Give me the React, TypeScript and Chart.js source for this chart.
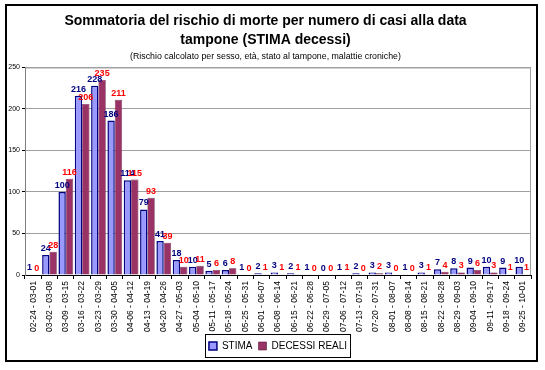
import React, { useEffect, useRef } from "react";
import { Chart, registerables } from "chart.js";

Chart.register(...registerables);

const weeks = [
  "02-24 - 03-01", "03-02 - 03-08", "03-09 - 03-15", "03-16 - 03-22", "03-23 - 03-29",
  "03-30 - 04-05", "04-06 - 04-12", "04-13 - 04-19", "04-20 - 04-26", "04-27 - 05-03",
  "05-04 - 05-10", "05-11 - 05-17", "05-18 - 05-24", "05-25 - 05-31", "06-01 - 06-07",
  "06-08 - 06-14", "06-15 - 06-21", "06-22 - 06-28", "06-29 - 07-05", "07-06 - 07-12",
  "07-13 - 07-19", "07-20 - 07-31", "08-01 - 08-07", "08-08 - 08-14", "08-15 - 08-21",
  "08-22 - 08-28", "08-29 - 09-03", "09-04 - 09-10", "09-11 - 09-17", "09-18 - 09-24",
  "09-25 - 10-01",
];

const stima = [1, 24, 100, 216, 228, 186, 114, 79, 41, 18, 10, 5, 6, 1, 2, 3, 2, 1, 0, 1, 2, 3, 3, 1, 3, 7, 8, 9, 10, 9, 10];
const decessiReali = [0, 28, 116, 206, 235, 211, 115, 93, 39, 10, 11, 6, 8, 0, 1, 1, 1, 0, 0, 1, 0, 2, 0, 0, 1, 4, 3, 6, 3, 1, 1];

const titleLines = ["Sommatoria del rischio di morte per numero di casi alla data", "tampone (STIMA decessi)"];
const subtitleText = "(Rischio calcolato per sesso, età, stato al tampone, malattie croniche)";

const FONT = "Arial, 'Liberation Sans', sans-serif";
const labelColors = ["#000080", "#FF0000"];

const valueLabels = {
  id: "valueLabels",
  afterDatasetsDraw(chart: any) {
    const ctx = chart.ctx;
    ctx.save();
    ctx.font = `bold 9px ${FONT}`;
    ctx.textAlign = "center";
    ctx.textBaseline = "bottom";
    chart.data.datasets.forEach((ds: any, i: number) => {
      const meta = chart.getDatasetMeta(i);
      ctx.fillStyle = labelColors[i];
      meta.data.forEach((el: any, j: number) => {
        ctx.fillText(String(ds.data[j]), el.x, el.y - 2);
      });
    });
    ctx.restore();
  },
};

const frame = {
  id: "frame",
  beforeDraw(chart: any) {
    const ctx = chart.ctx;
    ctx.save();
    ctx.fillStyle = "#ffffff";
    ctx.fillRect(0, 0, chart.width, chart.height);
    ctx.restore();
  },
  afterDraw(chart: any) {
    const ctx = chart.ctx;
    const a = chart.chartArea;
    ctx.save();
    ctx.strokeStyle = "#a0a0a0";
    ctx.lineWidth = 1;
    ctx.beginPath();
    ctx.moveTo(a.left, a.top + 0.5);
    ctx.lineTo(a.right - 0.5, a.top + 0.5);
    ctx.lineTo(a.right - 0.5, a.bottom);
    ctx.stroke();
    const boxes = chart.legend && chart.legend.legendHitBoxes;
    if (boxes && boxes.length) {
      let l = Infinity, t = Infinity, r = -Infinity, b = -Infinity;
      boxes.forEach((h: any) => {
        l = Math.min(l, h.left);
        t = Math.min(t, h.top);
        r = Math.max(r, h.left + h.width);
        b = Math.max(b, h.top + h.height);
      });
      ctx.strokeStyle = "#000000";
      ctx.lineWidth = 1;
      ctx.strokeRect(Math.round(l - 4) + 0.5, Math.round(t - 7) + 0.5, Math.round(r - l + 7), Math.round(b - t + 13));
    }
    ctx.strokeStyle = "#000000";
    ctx.lineWidth = 2;
    ctx.strokeRect(6, 5, 531, 356);
    ctx.restore();
  },
};

export default function App() {
  const ref = useRef<HTMLCanvasElement | null>(null);
  useEffect(() => {
    if (!ref.current) return;
    const chart = new Chart(ref.current, {
      type: "bar",
      data: {
        labels: weeks,
        datasets: [
          {
            label: "STIMA",
            data: stima,
            backgroundColor: "#9999FF",
            borderColor: "#000080",
            borderWidth: 1.5,
            categoryPercentage: 0.9,
            barPercentage: 1,
          },
          {
            label: "DECESSI REALI",
            data: decessiReali,
            backgroundColor: "#993366",
            borderColor: "#5a1a3a",
            borderWidth: 0.6,
            categoryPercentage: 0.9,
            barPercentage: 1,
          },
        ],
      },
      options: {
        responsive: false,
        animation: false,
        layout: { padding: { left: 0, right: 14, top: 0, bottom: 9 } },
        plugins: {
          title: {
            display: true,
            text: titleLines,
            color: "#000000",
            font: { family: FONT, size: 14, weight: "bold", lineHeight: 1.35 },
            padding: { top: 12, bottom: 2 },
          },
          subtitle: {
            display: true,
            text: subtitleText,
            color: "#000000",
            font: { family: FONT, size: 8.8, lineHeight: 1.1 },
            padding: { top: 0, bottom: 6 },
          },
          legend: {
            display: true,
            position: "bottom",
            fullSize: false,
            labels: {
              color: "#000000",
              font: { family: FONT, size: 10 },
              boxWidth: 8,
              boxHeight: 8,
              padding: 6,
            },
          },
          tooltip: { enabled: false },
        },
        scales: {
          x: {
            afterFit(scale: any) {
              scale.height = 60;
            },
            grid: {
              display: true,
              drawOnChartArea: false,
              drawTicks: true,
              tickLength: 4,
              color: "#000000",
              offset: true,
            },
            border: { display: true, color: "#000000", width: 1 },
            ticks: {
              autoSkip: false,
              maxRotation: 90,
              minRotation: 90,
              color: "#000000",
              padding: 2,
              font: { family: FONT, size: 8.5 },
            },
          },
          y: {
            min: 0,
            max: 250,
            afterFit(scale: any) {
              scale.width = 25;
            },
            grid: {
              color: "#a0a0a0",
              lineWidth: 1,
              drawTicks: true,
              tickLength: 3,
              tickColor: "#000000",
            },
            border: { display: true, color: "#808080", width: 1 },
            ticks: {
              stepSize: 50,
              color: "#000000",
              padding: 2,
              font: { family: FONT, size: 7 },
            },
          },
        },
      },
      plugins: [frame, valueLabels],
    });
    return () => chart.destroy();
  }, []);
  return (
    <div style={{ position: "fixed", left: 0, top: 0, width: 545, height: 370 }}>
      <canvas ref={ref} width={545} height={370} style={{ display: "block", width: 545, height: 370 }} />
    </div>
  );
}
